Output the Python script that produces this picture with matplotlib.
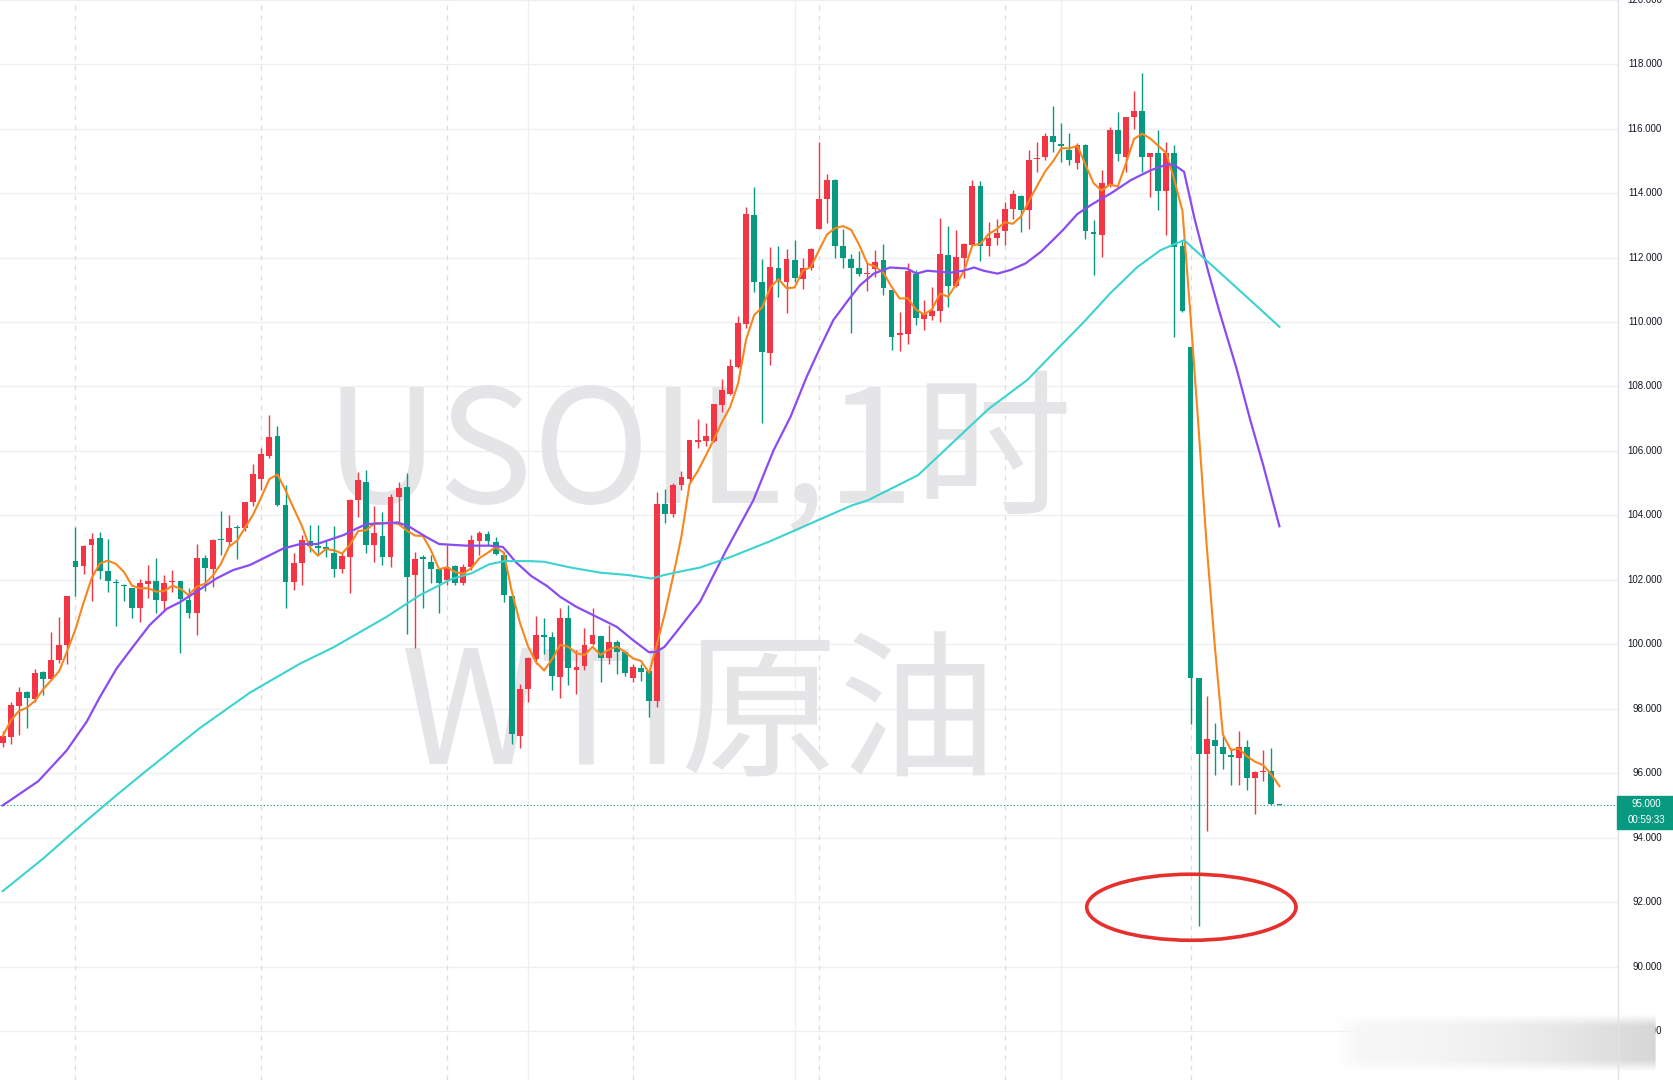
import numpy as np
import pandas as pd
import matplotlib
matplotlib.use("Agg")
import matplotlib.pyplot as plt
from matplotlib.patches import Ellipse, Rectangle
from matplotlib.transforms import blended_transform_factory

plt.rcParams['font.family'] = ['Noto Sans CJK SC', 'DejaVu Sans']

# hourly candles, USOIL
opens = [96.95, 97.13, 98.08, 98.52, 98.30, 99.15, 98.92, 99.51, 99.97, 102.58,
         102.43, 103.08, 103.31, 102.28, 101.92, 101.84, 101.76, 101.13, 101.88, 101.96,
         101.35, 101.93, 101.96, 101.37, 100.96, 102.68, 102.35, 103.25, 103.18, 103.64,
         103.60, 104.42, 105.12, 105.84, 106.46, 104.32, 101.94, 102.51, 103.21, 103.06,
         102.99, 102.84, 102.32, 102.71, 104.47, 105.04, 103.08, 103.36, 102.71, 104.58,
         104.87, 102.15, 102.71, 102.56, 102.35, 101.99, 102.43, 101.91, 102.40, 103.21,
         103.42, 103.18, 102.77, 101.49, 97.16, 98.61, 99.54, 100.30, 100.21, 98.99,
         100.80, 99.20, 99.32, 100.02, 100.25, 99.56, 100.08, 99.77, 98.94, 99.25,
         99.18, 98.25, 104.35, 104.04, 104.94, 105.14, 106.28, 106.31, 106.31, 107.42,
         107.78, 108.59, 109.95, 113.32, 111.25, 109.04, 111.69, 111.25, 111.92, 111.32,
         111.66, 112.90, 113.83, 114.42, 112.36, 111.94, 111.66, 111.49, 111.63, 111.92,
         110.99, 109.60, 109.64, 111.48, 110.08, 110.19, 110.35, 112.07, 111.11, 112.00,
         112.39, 114.22, 112.35, 112.62, 112.83, 113.52, 113.90, 113.47, 115.05, 115.11,
         115.77, 115.52, 115.35, 114.94, 115.49, 112.80, 112.70, 114.25, 115.97, 115.12,
         116.35, 116.54, 115.12, 115.25, 114.07, 115.23, 112.35, 109.22, 98.94, 96.61,
         97.04, 96.80, 96.56, 96.48, 96.80, 95.85, 96.03, 96.07, 95.03]
highs = [97.30, 98.22, 98.68, 98.55, 99.22, 99.18, 100.39, 100.85, 101.50, 103.65,
         103.08, 103.44, 103.47, 103.28, 102.01, 101.86, 101.76, 102.01, 102.46, 102.69,
         102.15, 102.30, 101.96, 101.76, 103.10, 102.77, 103.28, 104.14, 104.01, 103.70,
         104.40, 105.60, 106.10, 107.11, 106.77, 104.94, 102.82, 103.39, 103.70, 103.70,
         103.25, 103.66, 102.87, 104.52, 105.35, 105.42, 104.29, 104.11, 104.66, 105.04,
         105.30, 102.87, 102.77, 102.77, 102.35, 103.08, 102.45, 102.50, 103.39, 103.51,
         103.52, 103.33, 102.87, 101.50, 98.78, 99.61, 100.88, 100.82, 100.39, 101.11,
         101.22, 99.82, 100.49, 101.11, 100.25, 100.59, 100.13, 99.80, 99.40, 99.40,
         99.20, 104.73, 104.83, 105.01, 105.38, 106.35, 106.98, 106.87, 107.45, 108.22,
         108.84, 110.19, 113.57, 114.20, 111.94, 112.33, 112.35, 112.25, 112.54, 111.97,
         112.28, 115.58, 114.59, 114.45, 112.90, 112.12, 112.21, 111.87, 112.23, 112.42,
         111.00, 110.32, 111.82, 111.61, 110.68, 111.09, 113.24, 112.97, 112.85, 112.44,
         114.42, 114.38, 113.11, 113.21, 113.73, 114.09, 113.94, 115.33, 115.59, 115.87,
         116.70, 116.16, 115.85, 115.54, 115.52, 113.16, 114.71, 116.04, 116.52, 116.37,
         117.17, 117.71, 115.25, 115.95, 115.59, 115.49, 112.50, 109.22, 98.94, 98.41,
         97.55, 97.16, 96.78, 97.32, 97.03, 96.07, 96.71, 96.78, 95.03]
lows = [96.80, 96.92, 97.18, 97.39, 98.20, 98.42, 98.90, 99.41, 99.40, 101.50,
        102.17, 101.35, 102.02, 101.63, 100.57, 101.35, 100.83, 100.70, 101.45, 100.96,
        101.06, 101.63, 99.72, 100.80, 100.28, 101.65, 101.78, 102.77, 103.08, 102.65,
        103.50, 104.30, 104.80, 105.77, 104.30, 101.11, 101.68, 101.83, 102.87, 102.77,
        102.71, 102.09, 102.20, 101.60, 103.95, 102.82, 102.56, 102.45, 102.40, 103.80,
        100.33, 99.87, 101.11, 101.91, 100.96, 101.83, 101.85, 101.83, 102.30, 102.77,
        103.08, 102.77, 101.32, 96.92, 96.77, 98.22, 99.40, 99.69, 98.58, 98.32,
        98.73, 98.47, 99.20, 99.97, 98.84, 99.40, 99.07, 99.00, 98.84, 98.87,
        97.75, 98.04, 103.77, 103.96, 104.78, 105.00, 106.08, 106.15, 106.28, 107.21,
        107.73, 108.56, 109.80, 110.94, 106.87, 108.66, 110.78, 110.28, 111.25, 111.01,
        111.61, 112.90, 113.08, 112.00, 111.66, 109.67, 111.42, 110.97, 111.40, 110.83,
        109.12, 109.10, 109.33, 109.90, 109.75, 110.06, 110.01, 110.45, 111.09, 111.35,
        112.38, 111.90, 112.04, 112.38, 112.38, 113.21, 112.80, 112.90, 114.66, 115.02,
        115.28, 114.97, 114.87, 114.76, 112.56, 111.45, 112.02, 114.20, 115.00, 114.66,
        116.00, 114.66, 113.88, 113.47, 112.69, 109.54, 110.30, 97.52, 91.25, 94.21,
        95.94, 96.14, 95.62, 95.62, 95.49, 94.72, 95.75, 95.00, 95.00]
closes = [97.15, 98.11, 98.53, 98.33, 99.12, 98.92, 99.51, 99.97, 101.50, 102.40,
          103.05, 103.28, 102.28, 101.97, 101.89, 101.81, 101.13, 101.89, 101.96, 101.37,
          101.91, 101.97, 101.40, 100.96, 102.68, 102.37, 103.23, 103.23, 103.62, 103.61,
          104.40, 105.28, 105.90, 106.44, 104.32, 101.94, 102.51, 103.23, 103.06, 103.00,
          102.97, 102.32, 102.73, 104.47, 105.09, 103.08, 103.44, 102.71, 104.56, 104.85,
          102.09, 102.66, 102.63, 102.35, 101.91, 102.40, 101.89, 102.40, 103.23, 103.44,
          103.21, 102.80, 101.53, 97.23, 98.60, 99.56, 100.30, 100.23, 99.01, 100.82,
          99.25, 99.28, 99.97, 100.28, 99.56, 100.08, 99.77, 99.12, 99.28, 99.15,
          98.25, 104.35, 104.04, 104.94, 105.18, 106.33, 106.33, 106.46, 107.45, 107.88,
          108.63, 109.98, 113.35, 111.25, 109.07, 111.71, 111.27, 111.94, 111.35, 111.69,
          112.26, 113.83, 114.42, 112.36, 112.00, 111.69, 111.48, 111.53, 111.87, 111.04,
          109.54, 109.66, 111.59, 110.11, 110.26, 110.34, 112.11, 111.11, 112.02, 112.42,
          114.22, 112.35, 112.62, 112.77, 113.52, 113.97, 113.47, 115.04, 115.09, 115.77,
          115.59, 115.46, 115.02, 115.49, 112.83, 112.73, 114.30, 115.97, 115.20, 116.37,
          116.54, 115.12, 115.25, 114.07, 115.23, 112.33, 110.35, 98.94, 96.59, 97.07,
          96.84, 96.59, 96.50, 96.80, 95.85, 96.03, 96.07, 95.04, 95.00]

# slower moving averages as (bar index, price)
ma_mid_x = [0, 4.4, 7.9, 10.4, 12.0, 14.1, 16.2, 18.2, 20.3, 21.9, 24.4, 26.5, 28.5, 30.6,
            33.1, 34.7, 36.8, 38.9, 42.2, 43.8, 45.0, 47.1, 48.9, 50.3, 52.4, 54.0, 57.3,
            60.2, 61.9, 63.5, 65.4, 67.4, 69.0, 71.0, 73.1, 76.0, 78.0, 80.0, 80.9, 81.9,
            83.4, 86.3, 89.5, 92.9, 95.4, 97.5, 99.5, 101.2, 102.8, 104.7, 106.1, 107.8,
            109.8, 111.9, 113.1, 114.4, 117.3, 118.9, 120.2, 121.4, 123.1, 124.8, 126.6,
            128.5, 130.0, 131.2, 133.0, 134.8, 137.2, 139.6, 142.1, 144.2, 145.0, 146.2,
            147.5, 149.2, 150.6, 152.7, 154.4, 156.0, 158.0]
ma_mid_y = [95.0, 95.75, 96.7, 97.6, 98.35, 99.25, 99.95, 100.6, 101.1, 101.3, 101.7,
            102.05, 102.3, 102.46, 102.77, 102.97, 103.11, 103.11, 103.39, 103.59, 103.73,
            103.75, 103.78, 103.65, 103.33, 103.11, 103.06, 103.06, 103.02, 102.55, 102.12,
            101.8, 101.47, 101.16, 100.9, 100.54, 100.13, 99.75, 99.77, 99.92, 100.39,
            101.32, 102.9, 104.47, 106.02, 107.06, 108.3, 109.23, 110.06, 110.7, 111.14,
            111.5, 111.69, 111.66, 111.5, 111.59, 111.53, 111.59, 111.69, 111.59, 111.5,
            111.62, 111.82, 112.18, 112.55, 112.85, 113.35, 113.65, 114.0, 114.4, 114.71,
            114.9, 114.87, 114.66, 113.2, 111.55, 110.3, 108.55, 106.95, 105.55, 103.66]
ma_slow_x = [0, 5, 10, 14, 17.4, 24.4, 30.6, 36.8, 40.9, 47.5, 51.6, 55.6, 58.0, 60.2,
             62.1, 65.2, 67.0, 70.3, 74.0, 77.3, 80.3, 81.9, 84.3, 86.3, 90, 95, 100,
             105, 107.1, 113.3, 118.6, 122, 126.8, 129.7, 133.8, 137.1, 140.4, 143.3,
             146.2, 149.1, 152.4, 155.3, 158.0]
ma_slow_y = [92.34, 93.35, 94.45, 95.3, 96.0, 97.4, 98.5, 99.4, 99.9, 100.85, 101.52,
             102.03, 102.2, 102.48, 102.58, 102.58, 102.56, 102.38, 102.22, 102.15, 102.04,
             102.15, 102.28, 102.38, 102.7, 103.2, 103.75, 104.3, 104.47, 105.25, 106.5,
             107.3, 108.2, 108.95, 110.0, 110.9, 111.7, 112.23, 112.54, 111.88, 111.13,
             110.47, 109.85]

last_price = 95.000
countdown = "00:59:33"
session_breaks = [9, 32, 55, 78, 101, 124, 147]
time_grid = [65, 98, 131]
price_ticks = list(range(88, 121, 2))

UP = '#f23645'
DOWN = '#089981'

W, H = 1674, 1080
fig = plt.figure(figsize=(W / 100, H / 100), dpi=100)
ax = fig.add_axes([0, 0, 1618 / W, 1])

df = pd.DataFrame({'o': opens, 'h': highs, 'l': lows, 'c': closes})
x = np.arange(len(df))
up = df['c'] >= df['o']
col = np.where(up, UP, DOWN)

# grid
for t in price_ticks:
    ax.axhline(t, color='#eeeff2', lw=0.9, zorder=0)
for b in session_breaks:
    ax.axvline(b, color='#dcdde2', lw=0.9, ls=(0, (4, 4)), zorder=0)
for g in time_grid:
    ax.axvline(g, color='#eeeff2', lw=0.9, zorder=0)

# watermark
ax.text(0.432, 0.577, 'USOIL,1时', transform=ax.transAxes, ha='center', va='center',
        fontsize=114, color='#e5e5e8', zorder=0.5)
ax.text(0.432, 0.334, 'WTI原油', transform=ax.transAxes, ha='center', va='center',
        fontsize=114, color='#e5e5e8', zorder=0.5)

# candles
ax.vlines(x, df['l'], df['h'], colors=col, lw=1.0, zorder=2)
body = (df['c'] - df['o']).abs().clip(lower=0.04)
ax.bar(x, body, bottom=df[['o', 'c']].min(axis=1), width=0.72, color=col, zorder=3,
       linewidth=0)

# moving averages
ma_fast = df['c'].rolling(5, min_periods=1).mean()
ax.plot(x, ma_fast, color='#f7861c', lw=1.5, zorder=4)
ax.plot(ma_mid_x, ma_mid_y, color='#8a4cf2', lw=1.6, zorder=4)
ax.plot(ma_slow_x, ma_slow_y, color='#3bd3cf', lw=1.5, zorder=4)

# last price line
ax.axhline(last_price, color=DOWN, lw=0.8, ls=(0, (1, 2)), zorder=1)

# hand-drawn circle around the spike low
ax.add_patch(Ellipse((147.1, 91.84), 25.9, 2.05, fill=False, edgecolor='#e5302e',
                     lw=2.6, zorder=6))

ax.set_xlim(-0.334, 199.9)
ax.set_ylim(86.48, 119.99)
ax.set_xticks([])
ax.set_yticks([])
for s in ax.spines.values():
    s.set_visible(False)

# price scale
fig.add_artist(plt.Line2D([1618 / W, 1618 / W], [0, 1], transform=fig.transFigure,
                          color='#e0e3eb', lw=1))
tr = blended_transform_factory(fig.transFigure, ax.transData)
for t in price_ticks:
    ax.text(1662 / W, t, f'{t:.3f}', transform=tr, ha='right', va='center',
            fontsize=7, family='Liberation Sans', color='#131722', clip_on=False)

fig.add_artist(Rectangle((1617 / W, 1 - 829 / H), 57 / W, 33 / H, transform=fig.transFigure,
                         color=DOWN, zorder=5))
fig.text(1646 / W, 1 - 804 / H, f'{last_price:.3f}', ha='center', va='center', fontsize=7,
         family='Liberation Sans', color='white', zorder=6)
fig.text(1646 / W, 1 - 820 / H, countdown, ha='center', va='center', fontsize=7,
         family='Liberation Sans', color='white', zorder=6)

# blurred watermark at the bottom right
gx = np.linspace(0, 1, 322)
gy = np.linspace(0, 1, 60)
shade = 0.97 - 0.13 * gx ** 2
alpha_x = np.clip(gx / 0.08, 0, 1) * np.clip((1 - gx) / 0.005, 0, 1)
alpha_y = np.clip(np.minimum(gy, 1 - gy) / 0.2, 0, 1)
img = np.ones((60, 322, 4))
img[..., 0] = img[..., 1] = img[..., 2] = shade[None, :]
img[..., 3] = alpha_y[:, None] * alpha_x[None, :]
bax = fig.add_axes([1335 / W, 8 / H, 322 / W, 58 / H])
bax.imshow(img, aspect='auto')
bax.axis('off')

fig.savefig('out.png', dpi=100)
